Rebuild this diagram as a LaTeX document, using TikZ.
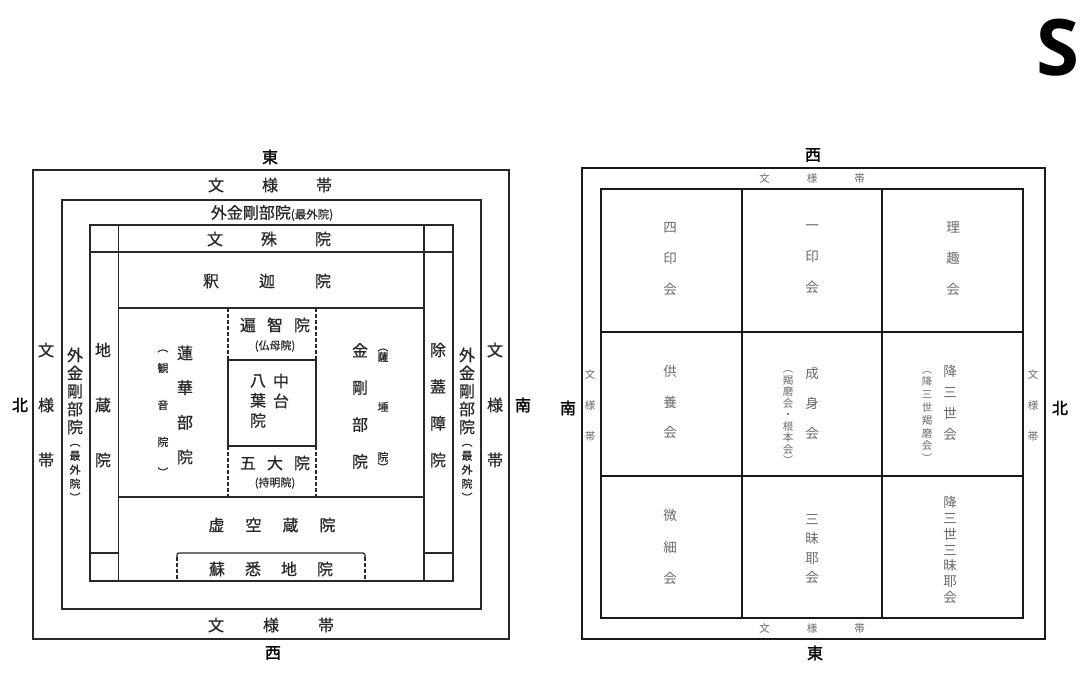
\documentclass[tikz,border=0pt]{standalone}
\usepackage{fontspec}
\usetikzlibrary{positioning}
\newfontfamily\jp{Noto Sans CJK JP}[FakeBold=0.7]
\newfontfamily\jpr{Noto Sans CJK JP}
\newfontfamily\jpb{Noto Sans CJK JP}[FakeBold=1.6]
\newfontfamily\latn{Open Sans}
\definecolor{inkL}{RGB}{40,40,40}
\definecolor{inkR}{RGB}{105,105,105}

\begin{document}
\begin{tikzpicture}[x=1pt,y=-1pt,
  every node/.style={inner sep=0pt,align=center},
  fr/.style={line width=1.2pt,inkL},
  frR/.style={line width=1.3pt,black!90},
  dsh/.style={fr,dash pattern=on 3.5pt off 2.5pt},
  L/.style={font=\jp\fontsize{16}{#1}\selectfont,inkL},
  L/.default=18,
  Ls/.style={font=\jp\fontsize{11}{#1}\selectfont,inkL},
  Ls/.default=14,
  R/.style={font=\jpr\fontsize{13.5}{#1}\selectfont,inkR},
  R/.default=16,
  Rs/.style={font=\jpr\fontsize{10.5}{#1}\selectfont,inkR},
  Rs/.default=12,
  D/.style={font=\jpb\fontsize{16}{18}\selectfont,black}
]
\useasboundingbox (0,0) rectangle (1080,688);

% left: frames
\draw[fr] (33,170) rectangle (509,639);
\draw[fr] (62,200) rectangle (481,609);
\draw[fr] (90,225) rectangle (453,581);
\draw[fr] (118.5,225) -- (118.5,581);
\draw[fr] (424,225) -- (424,581);
\draw[fr] (90,252) -- (453,252);
\draw[fr] (118.5,308) -- (424,308);
\draw[fr] (118.5,497) -- (424,497);
\draw[fr] (90,553) -- (118.5,553) (424,553) -- (453,553);
\draw[fr] (228,360) rectangle (316,446);
\draw[dsh] (228,308) -- (228,360) (316,308) -- (316,360);
\draw[dsh] (228,446) -- (228,497) (316,446) -- (316,497);
\draw[fr,rounded corners=2pt] (177,557) -- (177,553) -- (365,553) -- (365,557);
\draw[dsh] (177,557) -- (177,581) (365,557) -- (365,581);

% left: texts
\node[D] (eL) at (270,157) {東};
\node[L] (bandT) at (270,185) {文\hspace{38pt}様\hspace{38pt}帯};
\node[L] (gkT) at (272,213) {外金剛部院{\fontsize{11.5}{11}\selectfont(最外院)}};
\node[L] (monju) at (269,239) {文\hspace{38pt}殊\hspace{38pt}院};
\node[L] (shaka) at (267,281) {釈\hspace{40pt}迦\hspace{40pt}院};
\node[L] (henchi) at (275,325) {遍\hspace{11pt}智\hspace{11pt}院};
\node[Ls] (butsumo) at (275,346) {(仏母院)};
\node[L=20] (hachiyo) at (258,401) {八\\葉\\院};
\node[L=20] (chudai) at (281,391) {中\\台};
\node[L] (godai) at (275,463) {五\hspace{11pt}大\hspace{11pt}院};
\node[Ls] (jimyo) at (275,483) {(持明院)};
\node[L] (kokuzo) at (272,525) {虚\hspace{21pt}空\hspace{21pt}蔵\hspace{21pt}院};
\node[L] (soshitsuji) at (271,569) {蘇\hspace{20pt}悉\hspace{20pt}地\hspace{20pt}院};
\node[L] (bandB) at (271,625) {文\hspace{39pt}様\hspace{39pt}帯};
\node[D] (wL) at (273,653) {西};
\node[D] (nL) at (20,405) {北};
\node[D] (sL) at (523,405) {南};

\node[L=55] (bandLl) at (46,405) {文\\様\\帯};
\node[L=55] (bandLr) at (495,405) {文\\様\\帯};
\node[L] (gkL) at (75,391) {外\\金\\剛\\部\\院};
\node[Ls] (gkLs) [below=9pt of gkL] {︵\\最\\外\\院\\︶};
\node[L] (gkR) at (467,391) {外\\金\\剛\\部\\院};
\node[Ls] (gkRs) [below=9pt of gkR] {︵\\最\\外\\院\\︶};
\node[L=55] (jizo) at (103,405) {地\\蔵\\院};
\node[L=36.7] (jogai) at (438,405) {除\\蓋\\障\\院};
\node[L=34.7] (renge) at (185,405) {蓮\\華\\部\\院};
\node[Ls=37] (kannon) at (163,405) {観\\音\\院};
\node[Ls] (kannonA) at (163,351) {︵};
\node[Ls] (kannonB) at (163,472) {︶};
\node[L=37] (kongo) at (360,406) {金\\剛\\部\\院};
\node[Ls=50] (satta) at (383,407) {薩\\埵\\院};
\node[Ls] (sattaA) [above=0pt of satta] {︵};
\node[Ls] (sattaB) [below=0pt of satta] {︶};

% right: frames
\draw[frR] (582,168) rectangle (1045,639);
\draw[frR] (601,189) rectangle (1023,618);
\draw[frR] (742,189) -- (742,618) (882,189) -- (882,618);
\draw[frR] (601,332) -- (1023,332) (601,476) -- (1023,476);

% right: texts
\node[D] (wR) at (813,155) {西};
\node[Rs] (bandRt) at (812,179) {文\hspace{37pt}様\hspace{37pt}帯};
\node[R=31] (shiin) at (670,259) {四\\印\\会};
\node[R=31] (ichiin) at (812,259) {一\\印\\会};
\node[R=31] (rishu) at (953,259) {理\\趣\\会};
\node[R=30.5] (kuyo) at (670,402) {供\\養\\会};
\node[R=30] (joshin) at (812,403) {成\\身\\会};
\node[Rs=11.5] (katsuma) at (788,418) {︵\\羯\\磨\\会\\・\\根\\本\\会\\︶};
\node[R=21] (gosanze) at (950,403) {降\\三\\世\\会};
\node[Rs=12.8] (gosanzeK) at (927,417) {︵\\降\\三\\世\\羯\\磨\\会\\︶};
\node[R=31.5] (misai) at (670,547) {微\\細\\会};
\node[R=19.3] (sanmaya) at (812,549) {三\\昧\\耶\\会};
\node[R=15.8] (gosanzeS) at (950,550) {降\\三\\世\\三\\昧\\耶\\会};
\node[Rs=31] (bandRl) at (590,406) {文\\様\\帯};
\node[Rs=31] (bandRr) at (1033,406) {文\\様\\帯};
\node[Rs] (bandRb) at (812,629) {文\hspace{37pt}様\hspace{37pt}帯};
\node[D] (sR) at (568,408) {南};
\node[D] (nR) at (1060,408) {北};
\node[D] (eR) at (815,653) {東};

\node[font=\latn\bfseries\fontsize{78}{78}\selectfont] (mark) at (1058,48) {S};
\end{tikzpicture}
\end{document}
